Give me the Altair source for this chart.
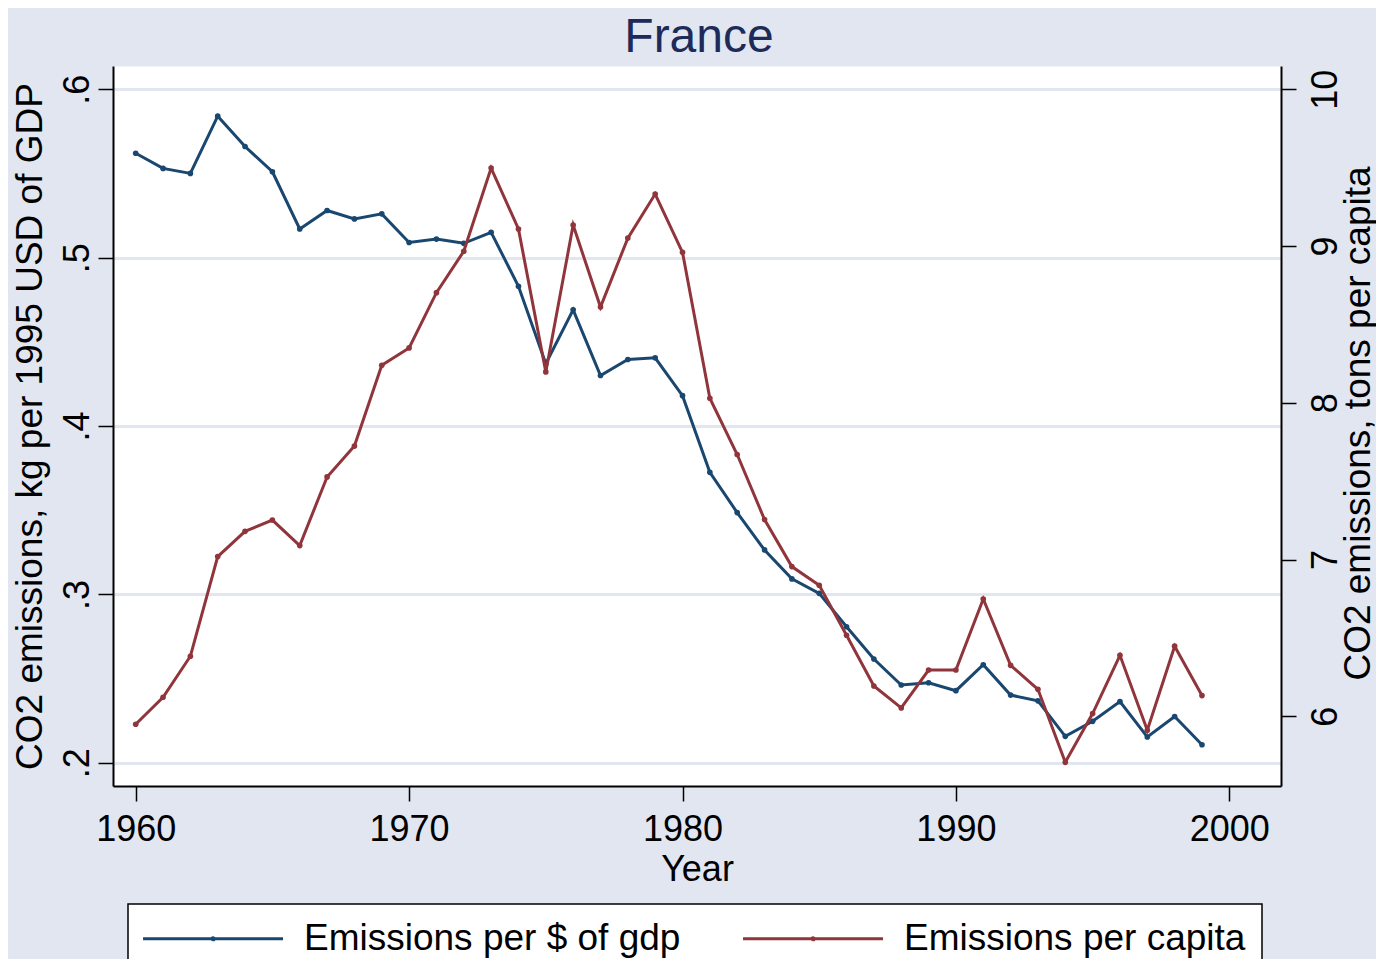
import altair as alt
import pandas as pd

years = [1960, 1961, 1962, 1963, 1964, 1965, 1966, 1967, 1968, 1969,
         1970, 1971, 1972, 1973, 1974, 1975, 1976, 1977, 1978, 1979,
         1980, 1981, 1982, 1983, 1984, 1985, 1986, 1987, 1988, 1989,
         1990, 1991, 1992, 1993, 1994, 1995, 1996, 1997, 1998, 1999]

per_gdp = [0.562, 0.553, 0.550, 0.584, 0.566, 0.551, 0.517, 0.528, 0.523, 0.526,
           0.509, 0.511, 0.5085, 0.515, 0.483, 0.437, 0.469, 0.430, 0.4395, 0.4405,
           0.418, 0.3725, 0.3486, 0.3264, 0.3092, 0.3006, 0.2808, 0.2616, 0.2462, 0.2475,
           0.2428, 0.2582, 0.2402, 0.2368, 0.2157, 0.2246, 0.2363, 0.2153, 0.2275, 0.2107]

per_capita = [5.949, 6.121, 6.383, 7.019, 7.180, 7.252, 7.089, 7.527, 7.724, 8.239,
              8.350, 8.703, 8.967, 9.498, 9.109, 8.197, 9.134, 8.611, 9.051, 9.332,
              8.960, 8.029, 7.670, 7.255, 6.955, 6.836, 6.517, 6.193, 6.053, 6.295,
              6.295, 6.748, 6.325, 6.172, 5.707, 6.017, 6.389, 5.911, 6.447, 6.132]

series_names = ["Emissions per $ of gdp", "Emissions per capita"]
series_colors = ["#1A476F", "#90353B"]
chart_title = ["France"]

left_ticks = [0.2, 0.3, 0.4, 0.5, 0.6]
right_ticks = [6, 7, 8, 9, 10]
x_ticks = [1960, 1970, 1980, 1990, 2000]

FONT = "Liberation Sans"
BG = "#E1E6F0"

df_gdp = pd.DataFrame({"Year": years, "value": per_gdp, "series": series_names[0]})
df_cap = pd.DataFrame({"Year": years, "value": per_capita, "series": series_names[1]})
df_title = pd.DataFrame({"t": chart_title})

# long line with a small marker dot in the middle (Stata-style legend key)
legend_key = ("M-1.39,0H8.61M3.53,0a0.08,0.08 0 1,0 0.16,0"
              "a0.08,0.08 0 1,0 -0.16,0Z")

color = alt.Color(
    "series:N",
    scale=alt.Scale(domain=series_names, range=series_colors),
    legend=alt.Legend(
        title=None,
        orient="none",
        legendX=15,
        legendY=838,
        direction="horizontal",
        symbolType=legend_key,
        symbolSize=784,
        symbolStrokeWidth=3,
        labelFontSize=37,
        labelFont=FONT,
        labelColor="black",
        labelLimit=600,
        labelOffset=123,
        columnPadding=56,
        padding=16,
        fillColor="white",
        strokeColor="black",
    ),
)

x_enc = alt.X(
    "Year:Q",
    scale=alt.Scale(domain=[1959.17, 2001.89], nice=False, zero=False),
    axis=alt.Axis(
        values=x_ticks,
        format="d",
        grid=False,
        title="Year",
        titleFontSize=36,
        titleFont=FONT,
        titleFontWeight="normal",
        titleColor="black",
        titleBaseline="alphabetic",
        titleY=94,
        labelFontSize=36,
        labelFont=FONT,
        labelColor="black",
        labelBaseline="alphabetic",
        labelAlign="center",
        labelPadding=39,
        tickSize=15,
        tickWidth=1.5,
        tickColor="black",
        domainColor="black",
        domainWidth=2,
    ),
)

gdp_line = alt.Chart(df_gdp).mark_line(
    strokeWidth=3, point=alt.OverlayMarkDef(filled=True, size=32)
).encode(
    x=x_enc,
    y=alt.Y(
        "value:Q",
        scale=alt.Scale(domain=[0.1862, 0.6138], nice=False, zero=False),
        axis=alt.Axis(
            orient="left",
            values=left_ticks,
            labelExpr="substring(format(datum.value, '.1f'), 1)",
            grid=True,
            gridColor=BG,
            gridWidth=3,
            title="CO2 emissions, kg per 1995 USD of GDP",
            titleFontSize=37,
            titleFont=FONT,
            titleFontWeight="normal",
            titleColor="black",
            titleAngle=270,
            titleBaseline="alphabetic",
            titleAlign="center",
            titleX=-72,
            titleY=360,
            labelFontSize=36,
            labelFont=FONT,
            labelColor="black",
            labelAngle=270,
            labelAlign="center",
            labelBaseline="alphabetic",
            labelPadding=10,
            tickSize=15,
            tickWidth=1.5,
            tickColor="black",
            domainColor="black",
            domainWidth=2,
        ),
    ),
    color=color,
)

cap_line = alt.Chart(df_cap).mark_line(
    strokeWidth=3, point=alt.OverlayMarkDef(filled=True, size=32)
).encode(
    x=x_enc,
    y=alt.Y(
        "value:Q",
        scale=alt.Scale(domain=[5.555, 10.149], nice=False, zero=False),
        axis=alt.Axis(
            orient="right",
            values=right_ticks,
            format="d",
            grid=False,
            title="CO2 emissions, tons per capita",
            titleFontSize=37,
            titleFont=FONT,
            titleFontWeight="normal",
            titleColor="black",
            titleAngle=270,
            titleBaseline="alphabetic",
            titleAlign="center",
            titleX=88,
            titleY=357,
            labelFontSize=36,
            labelFont=FONT,
            labelColor="black",
            labelAngle=270,
            labelAlign="center",
            labelBaseline="alphabetic",
            labelPadding=40,
            tickSize=15,
            tickWidth=1.5,
            tickColor="black",
            domainColor="black",
            domainWidth=2,
        ),
    ),
    color=color,
)

title_text = alt.Chart(df_title).mark_text(
    font=FONT,
    fontSize=48,
    color="#1C2B59",
    align="center",
    baseline="alphabetic",
).encode(
    text="t:N",
    x=alt.value(586),
    y=alt.value(-14),
)

chart = (
    alt.layer(gdp_line, cap_line, title_text)
    .resolve_scale(y="independent")
    .properties(
        width=1168,
        height=720,
        background=BG,
        padding={"left": 105, "top": 58, "right": 95, "bottom": 173},
        autosize=alt.AutoSizeParams(type="none"),
    )
    .configure_view(fill="white", stroke="transparent")
    .configure_legend(strokeWidth=1.5, cornerRadius=0)
)

chart.save("out.html", embed_options={"renderer": "svg", "actions": False})
